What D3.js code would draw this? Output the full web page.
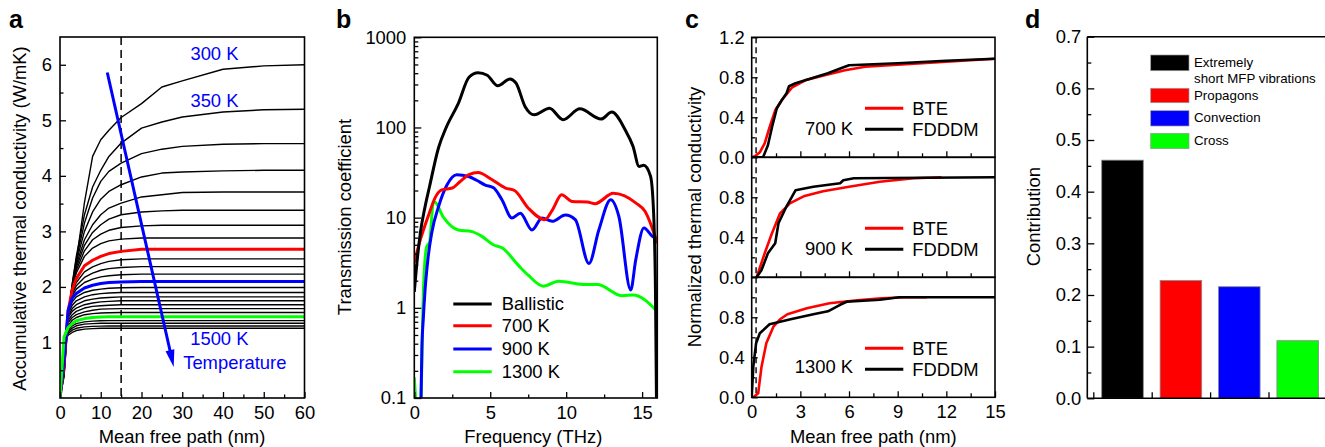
<!DOCTYPE html>
<html><head><meta charset="utf-8">
<script src="https://cdn.jsdelivr.net/npm/d3@7"></script>
<style>body{margin:0;background:#fff}svg{display:block}</style>
</head><body>
<svg id="c" width="1325" height="447"></svg>
<script>
// ---------------- Panel a data ----------------
const aMfp = [0, 1, 2, 3, 4, 6, 8, 10, 12, 15, 20, 25, 30, 40, 50, 60];
const aTemps = [300,350,400,450,500,550,600,650,700,750,800,850,900,950,1000,1050,1100,1150,1200,1250,1300,1350,1400,1450,1500];
const aKappa = [
 [0,0.40,1.43,1.95,2.45,3.52,4.35,4.65,4.82,5.05,5.30,5.60,5.71,5.92,5.98,6.00],
 [0,0.40,1.45,2.05,2.55,3.30,3.80,4.10,4.35,4.59,4.86,4.97,5.06,5.15,5.19,5.20],
 [0,0.45,1.48,2.05,2.50,3.15,3.60,3.90,4.08,4.23,4.40,4.48,4.53,4.57,4.58,4.58],
 [0,0.45,1.50,2.00,2.45,3.00,3.35,3.58,3.72,3.84,3.98,4.05,4.07,4.09,4.10,4.10],
 [0,0.50,1.52,2.00,2.40,2.85,3.12,3.30,3.42,3.51,3.62,3.66,3.70,3.71,3.71,3.71],
 [0,0.50,1.55,2.00,2.35,2.75,2.98,3.12,3.22,3.30,3.35,3.37,3.38,3.38,3.38,3.38],
 [0,0.55,1.55,1.98,2.30,2.65,2.85,2.95,3.02,3.07,3.10,3.11,3.11,3.11,3.11,3.11],
 [0,0.55,1.57,1.97,2.25,2.55,2.70,2.78,2.83,2.86,2.88,2.88,2.88,2.88,2.88,2.88],
 [0,0.60,1.57,1.95,2.15,2.38,2.48,2.55,2.60,2.64,2.68,2.68,2.68,2.68,2.68,2.68],
 [0,0.60,1.58,1.92,2.08,2.27,2.36,2.42,2.46,2.49,2.505,2.505,2.505,2.505,2.505,2.505],
 [0,0.65,1.58,1.88,2.02,2.17,2.25,2.30,2.33,2.35,2.366,2.366,2.366,2.366,2.366,2.366],
 [0,0.65,1.58,1.84,1.96,2.08,2.14,2.18,2.20,2.22,2.23,2.23,2.23,2.23,2.23,2.23],
 [0,0.70,1.58,1.80,1.88,1.98,2.03,2.06,2.08,2.09,2.096,2.096,2.096,2.096,2.096,2.096],
 [0,0.75,1.55,1.73,1.82,1.90,1.94,1.96,1.975,1.985,1.99,1.99,1.99,1.99,1.99,1.99],
 [0,0.80,1.52,1.67,1.75,1.82,1.86,1.88,1.89,1.90,1.90,1.90,1.90,1.90,1.90,1.90],
 [0,0.85,1.48,1.61,1.68,1.75,1.78,1.80,1.81,1.82,1.82,1.82,1.82,1.82,1.82,1.82],
 [0,0.90,1.45,1.56,1.62,1.68,1.71,1.73,1.74,1.75,1.75,1.75,1.75,1.75,1.75,1.75],
 [0,0.95,1.40,1.50,1.56,1.62,1.65,1.66,1.67,1.68,1.68,1.68,1.68,1.68,1.68,1.68],
 [0,1.00,1.36,1.45,1.50,1.55,1.58,1.60,1.605,1.61,1.61,1.61,1.61,1.61,1.61,1.61],
 [0,1.05,1.30,1.40,1.45,1.50,1.52,1.53,1.535,1.54,1.54,1.54,1.54,1.54,1.54,1.54],
 [0,1.10,1.27,1.34,1.39,1.43,1.45,1.46,1.462,1.465,1.465,1.465,1.465,1.465,1.465,1.465],
 [0,1.08,1.22,1.30,1.34,1.37,1.385,1.39,1.393,1.393,1.393,1.393,1.393,1.393,1.393,1.393],
 [0,1.06,1.19,1.26,1.30,1.33,1.34,1.345,1.346,1.346,1.346,1.346,1.346,1.346,1.346,1.346],
 [0,1.04,1.16,1.22,1.255,1.28,1.29,1.295,1.297,1.297,1.297,1.297,1.297,1.297,1.297,1.297],
 [0,1.02,1.13,1.18,1.215,1.24,1.25,1.255,1.256,1.256,1.256,1.256,1.256,1.256,1.256,1.256]
];
const aXTicks = [0,10,20,30,40,50,60];
const aYTicks = [1,2,3,4,5,6];

// ---------------- Panel b data ----------------
const bBallF = [0,0.2,0.4,0.7,1.0,1.6,2.1,2.9,3.6,4.2,4.8,5.5,6.3,6.7,7.3,7.9,8.9,9.8,10.9,12.3,13.0,13.9,14.4,14.8,15.1,15.55,15.75,15.88,15.96];
const bBallT = [1.5,3.5,6.8,13,22,60,100,185,360,405,380,290,345,310,170,138,163,122,161,124,148,93,62,37,38,29,12,1.5,0.05];
const b700F = [0,0.4,0.9,1.4,1.8,2.5,3.0,3.6,4.2,5.1,6.0,6.6,7.5,8.6,9.1,9.7,10.4,11.4,11.9,13.1,14.6,15.2,16];
const b700T = [3.2,5.7,10.2,17,20.3,21.3,25,30,31.7,26.5,21.3,20,12.8,9.5,12.2,18,15.1,14.9,14.3,18.6,14.5,11.7,5.2];
const b900F = [0.42,0.5,0.6,0.71,0.9,1.15,1.6,2.15,2.8,3.57,4.1,4.67,5.22,5.77,6.43,6.98,7.75,8.41,9.08,9.95,10.6,11.5,12.15,12.93,13.47,14.25,14.58,15.12,15.68,16];
const b900T = [0.06,0.35,0.8,1.58,3.5,6.8,13.3,23,29.9,28.6,26,23,21.4,15.8,9.9,11.2,7.3,9.9,9.1,10.7,9.5,3.1,7.3,15.8,10.3,1.58,3.4,7.7,6.2,5.7];
const b1300F = [0,0.08,0.15,0.4,0.45,0.52,0.6,0.82,1.0,1.25,1.35,1.9,2.9,3.8,4.45,5.2,5.8,6.9,7.5,8.5,9.5,11.3,12.05,13.7,14.4,16];
const b1300T = [0.17,0.1,0.06,0.06,0.1,0.4,1.58,4.8,5.3,14.5,14.8,10.2,7.3,7.0,6.2,5.0,4.6,2.9,2.3,1.74,1.97,1.81,1.81,1.36,1.39,0.91];
const bLegend = ["Ballistic","700 K","900 K","1300 K"];
const bXTicks = [0,5,10,15];
const bYTicks = [0.1,1,10,100,1000];

// ---------------- Panel c data ----------------
const c700BteX = [0,0.2,0.5,0.8,1.1,1.45,1.85,2.5,3.3,4.5,5.75,7,9,12,15];
const c700BteY = [0,0.01,0.05,0.14,0.3,0.47,0.57,0.7,0.77,0.82,0.87,0.905,0.925,0.955,0.985];
const c700FdX = [0,0.7,1.0,1.25,1.55,1.85,2.15,2.3,2.7,3.7,4.7,5.5,6.0,9,12,15];
const c700FdY = [0,0,0.12,0.3,0.49,0.57,0.64,0.71,0.74,0.79,0.84,0.89,0.92,0.94,0.965,0.985];
const c900BteX = [0.3,0.8,1.25,1.75,2.35,3.2,4.4,6.0,7.9,10,11.7];
const c900BteY = [0,0.24,0.44,0.64,0.74,0.81,0.86,0.905,0.955,0.99,1.0];
const c900FdX = [0.3,0.6,1.0,1.45,1.65,2.15,2.7,3.8,5.45,5.65,6.3,15];
const c900FdY = [0,0.07,0.24,0.34,0.54,0.71,0.87,0.905,0.94,0.97,0.99,1.0];
const c1300BteX = [0.1,0.4,0.6,0.9,1.35,1.75,2.2,3.4,4.8,6.5,8.0,9.5,10.8];
const c1300BteY = [0,0.04,0.3,0.54,0.71,0.78,0.83,0.89,0.94,0.97,0.99,1.0,1.0];
const c1300FdX = [0,0.1,0.27,0.5,1.1,2.4,3.8,4.7,5.45,5.85,7.9,9.1,15];
const c1300FdY = [0,0.31,0.54,0.64,0.73,0.78,0.83,0.86,0.925,0.955,0.975,1.0,1.0];
const cTemps = ["700 K","900 K","1300 K"];
const cXTicks = [0,3,6,9,12,15];

// ---------------- Panel d data ----------------
const dCats = ["Extremely short MFP vibrations","Propagons","Convection","Cross"];
const dVals = [0.461,0.228,0.216,0.1115];
const dYTicks = [0,0.1,0.2,0.3,0.4,0.5,0.6,0.7];

// ---------------- drawing ----------------
const FONT = '"Liberation Sans", Arial, Helvetica, sans-serif';
const FS = 18.4;
const svg = d3.select("#c");
const RED="#ff0000", BLUE="#0000ff", GREEN="#00ff00";

function styleAxis(g){
  g.select(".domain").remove();
  g.selectAll("line").attr("stroke","#000").attr("stroke-width",1.3);
  g.selectAll("text").attr("font-size",FS).attr("font-family",FONT).attr("fill","#000");
  g.attr("font-family",FONT);
}
function addAxis(parent, axis, tx, ty){
  const g = parent.append("g").attr("transform",`translate(${tx},${ty})`).call(axis);
  styleAxis(g); return g;
}
function text(parent, x, y, s, opt={}){
  const t = parent.append("text").attr("x",x).attr("y",y).text(s)
    .attr("font-family",FONT).attr("font-size",opt.size||FS)
    .attr("fill",opt.fill||"#000").attr("text-anchor",opt.anchor||"start");
  if(opt.weight) t.attr("font-weight",opt.weight);
  if(opt.rotate) t.attr("transform",`rotate(-90,${x},${y})`);
  if(opt.dy) t.attr("dy",opt.dy);
  return t;
}
function box(parent,x0,y0,x1,y1){
  parent.append("rect").attr("x",x0).attr("y",y0).attr("width",x1-x0).attr("height",y1-y0)
    .attr("fill","none").attr("stroke","#000").attr("stroke-width",1.6);
}
function clip(id,x0,y0,x1,y1){
  svg.append("clipPath").attr("id",id).append("rect").attr("x",x0).attr("y",y0).attr("width",x1-x0).attr("height",y1-y0);
}

// ===== Panel a =====
{
  const g = svg.append("g");
  const x = d3.scaleLinear([0,60],[60,304.5]);
  const y = d3.scaleLinear([0,6.5],[398,37]);
  clip("clipA",60,37,304.5,398);
  const lines = g.append("g").attr("clip-path","url(#clipA)");
  const line = d3.line().x(d=>x(d[0])).y(d=>y(d[1]));
  const colorOf = {700:RED,900:BLUE,1300:GREEN};
  // dashed line at 15 nm
  lines.append("line").attr("x1",x(15)).attr("x2",x(15)).attr("y1",y(6.5)).attr("y2",y(0))
    .attr("stroke","#000").attr("stroke-width",1.5).attr("stroke-dasharray","8,5");
  const order = aTemps.map((t,i)=>i).sort((a,b)=>(colorOf[aTemps[a]]?1:0)-(colorOf[aTemps[b]]?1:0));
  order.forEach(i=>{
    const t = aTemps[i];
    lines.append("path").attr("d",line(aMfp.map((m,j)=>[m,aKappa[i][j]])))
      .attr("fill","none").attr("stroke",colorOf[t]||"#000")
      .attr("stroke-width",colorOf[t]?3:1.4).attr("stroke-linejoin","round");
  });
  box(g,60,37,304.5,398);
  addAxis(g,d3.axisLeft(y).tickValues(aYTicks).tickSizeInner(-6).tickSizeOuter(0).tickPadding(8).tickFormat(d3.format("d")),60,0);
  addAxis(g,d3.axisLeft(y).tickValues(d3.range(0.5,6.5,1)).tickSizeInner(-3.5).tickSizeOuter(0).tickFormat(""),60,0);
  addAxis(g,d3.axisBottom(x).tickValues(aXTicks).tickSizeInner(-6).tickSizeOuter(0).tickPadding(8),0,398);
  addAxis(g,d3.axisBottom(x).tickValues(d3.range(5,60,10)).tickSizeInner(-3.5).tickSizeOuter(0).tickFormat(""),0,398);
  // arrow
  const p0=[x(11.6),y(5.86)], p1=[x(27.9),y(0.56)];
  const dx=p1[0]-p0[0], dy=p1[1]-p0[1], L=Math.hypot(dx,dy), ux=dx/L, uy=dy/L;
  const hl=17, hw=4.5, bx=p1[0]-ux*hl, by=p1[1]-uy*hl;
  g.append("line").attr("x1",p0[0]).attr("y1",p0[1]).attr("x2",bx+ux*2).attr("y2",by+uy*2)
    .attr("stroke",BLUE).attr("stroke-width",3);
  g.append("path").attr("d",`M${p1[0]},${p1[1]}L${bx-uy*hw},${by+ux*hw}L${bx+uy*hw},${by-ux*hw}Z`).attr("fill",BLUE);
  text(g,x(37.9),y(6.09),"300 K",{fill:BLUE,anchor:"middle"});
  text(g,x(37.9),y(5.24),"350 K",{fill:BLUE,anchor:"middle"});
  text(g,x(39.1),y(0.954),"1500 K",{fill:BLUE,anchor:"middle"});
  text(g,x(42.9),y(0.53),"Temperature",{fill:BLUE,anchor:"middle"});
  text(g,182,443,"Mean free path (nm)",{anchor:"middle"});
  text(g,20,218.5,"Accumulative thermal conductivity (W/mK)",{anchor:"middle",rotate:true,dy:"0.35em"});
  text(g,9,28,"a",{size:25,weight:"bold"});
}

// ===== Panel b =====
{
  const g = svg.append("g");
  const x = d3.scaleLinear([0,16],[414.3,657.3]);
  const y = d3.scaleLog([0.1,1000],[398,37.3]);
  clip("clipB",414.3,37.3,657.3,398);
  const lines = g.append("g").attr("clip-path","url(#clipB)");
  const line = d3.line().x(d=>x(d[0])).y(d=>y(d[1])).curve(d3.curveMonotoneX);
  const series = [[bBallF,bBallT,"#000"],[b700F,b700T,RED],[b900F,b900T,BLUE],[b1300F,b1300T,GREEN]];
  [3,2,1,0].forEach(k=>{
    const [F,T,c]=series[k];
    lines.append("path").attr("d",line(F.map((f,i)=>[f,T[i]]))).attr("fill","none")
      .attr("stroke",c).attr("stroke-width",3).attr("stroke-linejoin","round");
  });
  box(g,414.3,37.3,657.3,398);
  const minor=[]; [0.1,1,10,100].forEach(d=>{for(let m=2;m<=9;m++) minor.push(d*m);});
  addAxis(g,d3.axisLeft(y).tickValues(bYTicks).tickSizeInner(-7).tickSizeOuter(0).tickPadding(8).tickFormat(d=>String(d)),414.3,0);
  addAxis(g,d3.axisLeft(y).tickValues(minor).tickSizeInner(-4).tickSizeOuter(0).tickFormat(""),414.3,0);
  addAxis(g,d3.axisBottom(x).tickValues(bXTicks).tickSizeInner(-6).tickSizeOuter(0).tickPadding(8),0,398);
  addAxis(g,d3.axisBottom(x).tickValues([2.5,7.5,12.5]).tickSizeInner(-3.5).tickSizeOuter(0).tickFormat(""),0,398);
  const rows=[304,325.7,349,371.7];
  bLegend.forEach((s,i)=>{
    g.append("line").attr("x1",453.3).attr("x2",491.7).attr("y1",rows[i]).attr("y2",rows[i])
      .attr("stroke",series[i][2]).attr("stroke-width",3);
    text(g,501.7,rows[i],s,{dy:"0.35em"});
  });
  text(g,533.3,443,"Frequency (THz)",{anchor:"middle"});
  text(g,345,217,"Transmission coefficient",{anchor:"middle",rotate:true,dy:"0.35em"});
  text(g,336,28,"b",{size:25,weight:"bold"});
}

// ===== Panel c =====
{
  const g = svg.append("g");
  const x = d3.scaleLinear([0,15],[751.7,995]);
  const sub = [
    [c700BteX,c700BteY,c700FdX,c700FdY],
    [c900BteX,c900BteY,c900FdX,c900FdY],
    [c1300BteX,c1300BteY,c1300FdX,c1300FdY]
  ];
  sub.forEach((s,i)=>{
    const top = 37.3+120*i, bot = top+120;
    const y = d3.scaleLinear([0,1.2],[bot,top]);
    clip("clipC"+i,751.7,top,995,bot);
    const lines = g.append("g").attr("clip-path",`url(#clipC${i})`);
    lines.append("line").attr("x1",x(0.27)).attr("x2",x(0.27)).attr("y1",top).attr("y2",bot)
      .attr("stroke","#000").attr("stroke-width",1.4).attr("stroke-dasharray","6,4");
    const line = d3.line().x(d=>x(d[0])).y(d=>y(d[1]));
    lines.append("path").attr("d",line(s[0].map((v,j)=>[v,s[1][j]]))).attr("fill","none").attr("stroke",RED).attr("stroke-width",2.6).attr("stroke-linejoin","round");
    lines.append("path").attr("d",line(s[2].map((v,j)=>[v,s[3][j]]))).attr("fill","none").attr("stroke","#000").attr("stroke-width",2.6).attr("stroke-linejoin","round");
    const maj = i===0?[0,0.4,0.8,1.2]:[0,0.4,0.8];
    addAxis(g,d3.axisLeft(y).tickValues(maj).tickSizeInner(-6).tickSizeOuter(0).tickPadding(7).tickFormat(d3.format(".1f")),751.7,0);
    addAxis(g,d3.axisLeft(y).tickValues([0.2,0.6,1.0]).tickSizeInner(-3.5).tickSizeOuter(0).tickFormat(""),751.7,0);
    const xa = d3.axisBottom(x).tickValues(i===2?cXTicks:[3,6,9,12]).tickSizeInner(-6).tickSizeOuter(0).tickPadding(8);
    if(i!==2) xa.tickFormat("");
    addAxis(g,xa,0,bot);
    addAxis(g,d3.axisBottom(x).tickValues([1.5,4.5,7.5,10.5,13.5]).tickSizeInner(-4).tickSizeOuter(0).tickFormat(""),0,bot);
    box(g,751.7,top,995,bot);
    g.append("line").attr("x1",865).attr("x2",903.3).attr("y1",top+71).attr("y2",top+71).attr("stroke",RED).attr("stroke-width",3);
    g.append("line").attr("x1",865).attr("x2",903.3).attr("y1",top+92).attr("y2",top+92).attr("stroke","#000").attr("stroke-width",3);
    text(g,912.3,top+71,"BTE",{dy:"0.35em"});
    text(g,912.3,top+92,"FDDDM",{dy:"0.35em"});
    text(g,853,top+(i===2?89.5:91),cTemps[i],{anchor:"end",dy:"0.35em"});
  });
  text(g,873.3,443,"Mean free path (nm)",{anchor:"middle"});
  text(g,695,217,"Normalized thermal conductivity",{anchor:"middle",rotate:true,dy:"0.35em"});
  text(g,685,28,"c",{size:25,weight:"bold"});
}

// ===== Panel d =====
{
  const g = svg.append("g");
  const x = d3.scaleBand(dCats,[1093.3,1326.9]).paddingInner(0.288).paddingOuter(0.144);
  const y = d3.scaleLinear([0,0.7],[398.3,36.7]);
  const colors = ["#000",RED,BLUE,GREEN];
  dCats.forEach((c,i)=>{
    g.append("rect").attr("x",x(c)).attr("width",x.bandwidth()).attr("y",y(dVals[i])).attr("height",y(0)-y(dVals[i]))
      .attr("fill",colors[i]).attr("stroke","#888").attr("stroke-width",0.8);
  });
  g.append("line").attr("x1",1087.3).attr("x2",1087.3).attr("y1",36.7).attr("y2",398.3).attr("stroke","#000").attr("stroke-width",1.6);
  g.append("line").attr("x1",1087.3).attr("x2",1325).attr("y1",36.7).attr("y2",36.7).attr("stroke","#000").attr("stroke-width",1.6);
  g.append("line").attr("x1",1087.3).attr("x2",1325).attr("y1",398.3).attr("y2",398.3).attr("stroke","#000").attr("stroke-width",1.6);
  addAxis(g,d3.axisLeft(y).tickValues(dYTicks).tickSizeInner(-7).tickSizeOuter(0).tickPadding(6).tickFormat(d3.format(".1f")),1087.3,0);
  addAxis(g,d3.axisLeft(y).tickValues(d3.range(0.05,0.7,0.1)).tickSizeInner(-4).tickSizeOuter(0).tickFormat(""),1087.3,0);
  const step = x.step(), gap = (step - x.bandwidth())/2;
  const bTicks = dCats.map(c=>x(c)-gap);
  const xt = d3.scaleLinear([0,1],[0,1]);
  addAxis(g,d3.axisBottom(xt).tickValues(bTicks).tickSizeInner(-6).tickSizeOuter(0).tickFormat(""),0,398.3);
  // legend
  const sw = [[55,70.7],[88.3,102.7],[110.7,126],[133.3,148.7]];
  sw.forEach((r,i)=>{
    g.append("rect").attr("x",1150.7).attr("y",r[0]).attr("width",38.3).attr("height",r[1]-r[0])
      .attr("fill",colors[i]).attr("stroke","#999").attr("stroke-width",0.7);
  });
  const LS=13.3;
  text(g,1194,62.7,"Extremely",{size:LS,dy:"0.35em"});
  text(g,1194,78.7,"short MFP vibrations",{size:LS,dy:"0.35em"});
  text(g,1194,95.7,"Propagons",{size:LS,dy:"0.35em"});
  text(g,1194,117.3,"Convection",{size:LS,dy:"0.35em"});
  text(g,1194,140.3,"Cross",{size:LS,dy:"0.35em"});
  text(g,1033.3,216.7,"Contribution",{anchor:"middle",rotate:true,dy:"0.35em"});
  text(g,1025,28,"d",{size:25,weight:"bold"});
}
</script>
</body></html>
